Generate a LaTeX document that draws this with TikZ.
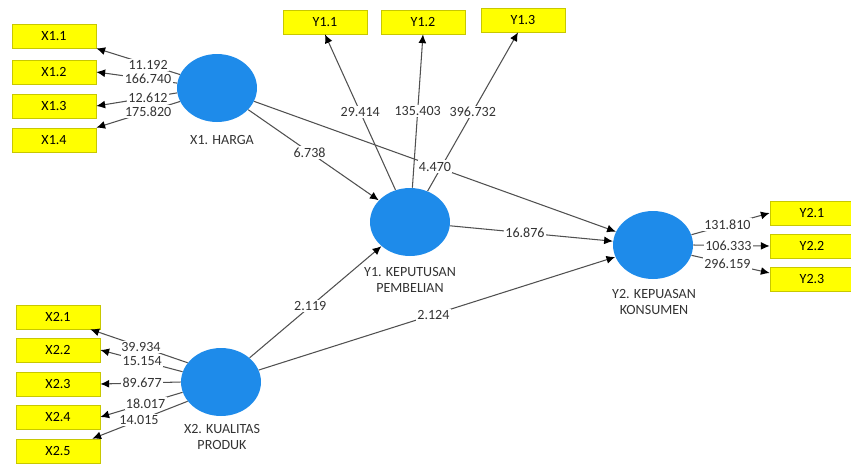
\documentclass[tikz,border=0pt]{standalone}
\usepackage{fontspec}
\setmainfont{Carlito}
\usetikzlibrary{shapes,arrows,arrows.meta,positioning,calc}
\definecolor{plsblue}{HTML}{1E8BEA}
\definecolor{plsyellow}{HTML}{FFFF00}
\definecolor{plsedge}{HTML}{C8C800}
\definecolor{plsline}{HTML}{505050}
\definecolor{plstext}{HTML}{333333}

\begin{document}
\begin{tikzpicture}[x=0.02cm, y=-0.02cm, font=\fontsize{8}{9.5}\selectfont,
    latent/.style={ellipse, fill=plsblue, minimum width=1.6cm, minimum height=1.36cm, inner sep=0pt},
    indicator/.style={draw=plsedge, fill=plsyellow, minimum width=1.68cm, minimum height=0.48cm, inner sep=0pt},
    link/.style={draw=plsline, line width=0.6pt, -{Latex[length=5pt,width=4.5pt,color=black]}},
    coef/.style={fill=white, inner sep=0.8pt, text=plstext},
    lvname/.style={align=center, text=plstext}]
            \useasboundingbox (0,0) rectangle (851,464);

            % Latent variables
            \node[latent] (X1) at (217,88) {};
            \node[latent] (Y1) at (410,222) {};
            \node[latent] (Y2) at (653,245) {};
            \node[latent] (X2) at (221,382) {};
            \node[lvname] (nX1) at (222,140) {X1. HARGA};
            \node[lvname] (nY1) at (410,280) {Y1. KEPUTUSAN\\PEMBELIAN};
            \node[lvname] (nY2) at (654,302) {Y2. KEPUASAN\\KONSUMEN};
            \node[lvname] (nX2) at (222,437) {X2. KUALITAS\\PRODUK};

            % Indicators of X1
            \node[indicator] (x11) at (54,36) {X1.1};
            \node[indicator] (x12) at (54,72) {X1.2};
            \node[indicator] (x13) at (54,106) {X1.3};
            \node[indicator] (x14) at (54,140) {X1.4};
            \draw[link] (X1.160) -- (x11.south east) node[coef, pos=0.38] {11.192};
            \draw[link] (X1.173) -- (x12.east) node[coef, pos=0.36] {166.740};
            \draw[link] (X1.187) -- (x13.east) node[coef, pos=0.36] {12.612};
            \draw[link] (X1.200) -- (x14.north east) node[coef, pos=0.38] {175.820};

            % Indicators of Y1
            \node[indicator] (y11) at (325,22) {Y1.1};
            \node[indicator] (y12) at (423,22) {Y1.2};
            \node[indicator] (y13) at (523,20) {Y1.3};
            \draw[link] (Y1) -- (y11.south) node[coef, pos=0.5] {29.414};
            \draw[link] (Y1) -- (y12.south) node[coef, pos=0.5] {135.403};
            \draw[link] (Y1) -- ($(y13.south)+(-5,0)$) node[coef, pos=0.5] {396.732};

            % Indicators of Y2
            \node[indicator] (y21) at (812,213) {Y2.1};
            \node[indicator] (y22) at (812,246) {Y2.2};
            \node[indicator] (y23) at (812,279) {Y2.3};
            \draw[link] (Y2.15) -- (y21.west) node[coef, pos=0.46] {131.810};
            \draw[link] (Y2.0) -- (y22.west) node[coef, pos=0.46] {106.333};
            \draw[link] (Y2.-15) -- ($(y23.west)+(0,-6)$) node[coef, pos=0.46] {296.159};

            % Indicators of X2
            \node[indicator] (x21) at (58,317) {X2.1};
            \node[indicator] (x22) at (58,350) {X2.2};
            \node[indicator] (x23) at (58,384) {X2.3};
            \node[indicator] (x24) at (58,417) {X2.4};
            \node[indicator] (x25) at (58,451) {X2.5};
            \draw[link] (X2.150) -- ($(x21.south east)+(-10,0)$) node[coef, pos=0.48] {39.934};
            \draw[link] (X2.165) -- (x22.east) node[coef, pos=0.49] {15.154};
            \draw[link] (X2.180) -- (x23.east) node[coef, pos=0.48] {89.677};
            \draw[link] (X2.195) -- (x24.east) node[coef, pos=0.45] {18.017};
            \draw[link] (X2.210) -- ($(x25.north east)+(-8,0)$) node[coef, pos=0.51] {14.015};

            % Inner model
            \draw[link] (X1) -- (Y1) node[coef, pos=0.47] {6.738};
            \draw[link] (X1) -- (Y2) node[coef, pos=0.5] {4.470};
            \draw[link] (Y1) -- (Y2) node[coef, pos=0.46] {16.876};
            \draw[link] (X2) -- (Y1) node[coef, pos=0.46] {2.119};
            \draw[link] (X2) -- (Y2) node[coef, pos=0.49] {2.124};
        \end{tikzpicture}
\end{document}
